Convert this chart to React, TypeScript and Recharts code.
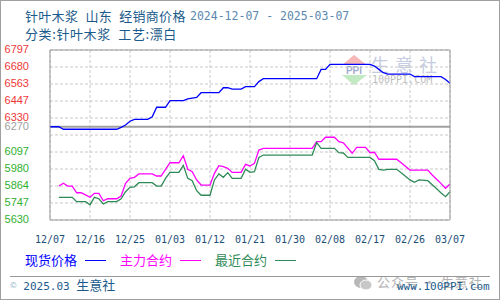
import React from "react";
import { LineChart, Line, XAxis, YAxis, CartesianGrid, ReferenceLine } from "recharts";

// days counted from 2024-12-07
const spotDay = [0, 2, 3, 15, 16, 17, 18, 19, 22, 23, 24, 26, 27, 30, 31, 33, 34, 38, 39, 40, 41, 43, 44, 46, 47, 48, 60, 61, 62, 63, 72, 73, 74, 75, 76, 81, 82, 88, 89, 90];
const spotPrice = [6270, 6270, 6253, 6253, 6266, 6282, 6308, 6321, 6321, 6339, 6404, 6404, 6449, 6449, 6461, 6472, 6504, 6504, 6538, 6538, 6529, 6529, 6545, 6545, 6580, 6600, 6600, 6664, 6664, 6699, 6699, 6687, 6664, 6641, 6632, 6632, 6614, 6614, 6595, 6568];

const mainDay = [2, 3, 4, 5, 6, 7, 8, 9, 10, 11, 12, 13, 15, 16, 17, 18, 19, 20, 23, 24, 25, 26, 27, 29, 30, 31, 32, 33, 34, 36, 37, 38, 39, 40, 41, 43, 44, 45, 46, 47, 48, 59, 60, 61, 62, 64, 65, 66, 68, 69, 71, 72, 73, 74, 78, 79, 81, 85, 86, 87, 88, 89, 90];
const mainPrice = [5863, 5882, 5863, 5863, 5817, 5817, 5802, 5786, 5813, 5813, 5762, 5776, 5776, 5795, 5882, 5916, 5923, 5946, 5946, 5932, 5932, 5978, 6023, 6023, 6071, 5978, 5962, 5905, 5870, 5870, 5950, 6003, 5996, 5985, 5957, 5957, 6012, 6001, 6019, 6110, 6122, 6122, 6168, 6168, 6198, 6198, 6168, 6160, 6088, 6129, 6129, 6092, 6095, 6047, 6047, 6023, 5973, 5973, 5939, 5910, 5880, 5848, 5877];

const nearDay = [2, 5, 6, 8, 9, 10, 11, 12, 13, 15, 16, 17, 18, 19, 20, 23, 24, 25, 26, 27, 29, 30, 31, 32, 33, 34, 36, 37, 38, 39, 40, 41, 43, 44, 45, 46, 47, 48, 59, 60, 61, 64, 65, 66, 67, 72, 73, 74, 75, 76, 78, 79, 81, 82, 83, 85, 86, 87, 88, 89, 90];
const nearPrice = [5786, 5786, 5756, 5756, 5735, 5786, 5776, 5740, 5756, 5756, 5776, 5824, 5854, 5858, 5886, 5886, 5863, 5863, 5916, 5957, 5957, 6005, 5916, 5900, 5831, 5800, 5800, 5905, 5946, 5923, 5955, 5916, 5916, 5978, 5957, 5962, 6060, 6076, 6076, 6161, 6122, 6122, 6092, 6090, 6060, 6060, 6037, 5978, 5973, 5978, 5978, 5955, 5905, 5889, 5905, 5900, 5872, 5845, 5815, 5790, 5824];

const dayTicks = [0, 9, 18, 27, 36, 45, 54, 63, 72, 81, 90];
const priceTicks = [6797, 6680, 6563, 6447, 6330, 6270, 6097, 5980, 5864, 5747, 5630];
const pctTicks = ["8.41%", "6.55%", "4.69%", "2.83%", "0.97%", "0.00%", "-2.75%", "-4.61%", "-6.47%", "-8.33%", "-10.19%"];
const BASE_PRICE = 6270;

const Y_MIN = 5630;
const Y_MAX = 6797;
// ten even grid divisions
const gridPrices = Array.from({ length: 11 }, (_, i) => Y_MIN + ((Y_MAX - Y_MIN) * i) / 10);

const toRows = (days: number[], vals: number[]) => days.map((d, i) => ({ day: d, price: vals[i] }));
const spotRows = toRows(spotDay, spotPrice);
const mainRows = toRows(mainDay, mainPrice);
const nearRows = toRows(nearDay, nearPrice);

const RED = "#f03838";
const GREEN = "#30b030";
const GREY = "#a0a0a0";
const tickColor = (v: number) => (v > BASE_PRICE ? RED : v < BASE_PRICE ? GREEN : GREY);

const MONO = "'DejaVu Sans Mono', 'Liberation Mono', monospace";
const CJK = "'Noto Sans CJK SC', 'Noto Sans', sans-serif";
const TITLE = "#1b5b8b";

function dayLabel(d: number) {
  const dt = new Date(2024, 11, 7 + d);
  const mm = String(dt.getMonth() + 1).padStart(2, "0");
  const dd = String(dt.getDate()).padStart(2, "0");
  return `${mm}/${dd}`;
}

function LeftTick(p: any) {
  const v = p.payload.value;
  return (
    <text x={p.x} y={p.y + 3} textAnchor="end" fill={tickColor(v)} fontSize={11} fontFamily="'Liberation Sans', Arial, sans-serif">
      {v}
    </text>
  );
}

function RightTick(p: any) {
  const v = p.payload.value;
  const i = priceTicks.indexOf(v);
  return (
    <text x={p.x} y={p.y + 3} textAnchor="start" fill={tickColor(v)} fontSize={10} fontFamily={MONO}>
      {pctTicks[i]}
    </text>
  );
}

function DayTick(p: any) {
  return (
    <text x={p.x} y={p.y + 21} textAnchor="middle" fill="#1d4f78" fontSize={10} fontFamily={MONO}>
      {dayLabel(p.payload.value)}
    </text>
  );
}

const abs = (left: number, top: number, extra: React.CSSProperties = {}): React.CSSProperties => ({
  position: "absolute",
  left,
  top,
  whiteSpace: "nowrap",
  ...extra,
});

function LegendItem({ left, label, color }: { left: number; label: string; color: string }) {
  return (
    <>
      <div style={abs(left, 252, { color, fontFamily: CJK, fontSize: 13, lineHeight: "16px" })}>{label}</div>
      <div style={abs(left + 60, 260, { width: 21, height: 1.3, background: color })} />
    </>
  );
}

export default function App() {
  return (
    <div style={{ position: "absolute", left: 0, top: 0, width: 500, height: 300, background: "#fff", overflow: "hidden" }}>
      {/* watermark in plot */}
      <svg style={abs(340, 53)} width={30} height={34}>
        <polygon points="14,2 2,12 27,12" fill="#f6b8b8" />
        <text x={14} y={21} textAnchor="middle" fontSize={10} fontWeight="bold" fill="#a4aed0" fontFamily="'Liberation Sans', Arial">PPI</text>
        <polygon points="2,22 27,22 14,32" fill="#c2eac2" />
      </svg>
      <div style={abs(371, 54, { fontFamily: CJK, fontSize: 18, lineHeight: "20px", color: "#c6cde2", letterSpacing: 6 })}>生意社</div>
      <div style={abs(372, 74, { fontFamily: MONO, fontSize: 10, lineHeight: "12px", color: "#bdbdbd" })}>100PPI.COM</div>

      <div style={abs(0, 0)}>
        <LineChart width={500} height={300} margin={{ top: 50, right: 0, bottom: 50, left: 0 }}>
          <CartesianGrid stroke="#c8c8c8" strokeDasharray="3 2" horizontalValues={gridPrices} verticalValues={dayTicks} />
          <XAxis
            dataKey="day"
            type="number"
            domain={[0, 90]}
            ticks={dayTicks}
            interval={0}
            height={30}
            tickSize={0}
            tickLine={false}
            axisLine={{ stroke: "#999" }}
            tick={DayTick}
          />
          <YAxis
            type="number"
            domain={[Y_MIN, Y_MAX]}
            ticks={priceTicks}
            interval={0}
            width={50}
            tickSize={0}
            tickMargin={21}
            tickLine={false}
            axisLine={{ stroke: "#999" }}
            tick={LeftTick}
          />
          <YAxis
            yAxisId="pct"
            orientation="right"
            type="number"
            domain={[Y_MIN, Y_MAX]}
            ticks={priceTicks}
            interval={0}
            width={50}
            tickSize={0}
            tickMargin={5}
            tickLine={false}
            axisLine={{ stroke: "#999" }}
            tick={RightTick}
          />
          <ReferenceLine y={Y_MAX} stroke="#999" />
          <ReferenceLine y={BASE_PRICE} stroke="#a0a0a0" strokeWidth={2} />
          <Line data={mainRows} name="主力合约" dataKey="price" type="linear" stroke="#ff00ff" strokeWidth={1.3} dot={false} isAnimationActive={false} />
          <Line data={nearRows} name="最近合约" dataKey="price" type="linear" stroke="#2e8b57" strokeWidth={1.3} dot={false} isAnimationActive={false} />
          <Line data={spotRows} name="现货价格" dataKey="price" type="linear" stroke="#0000ff" strokeWidth={1.3} dot={false} isAnimationActive={false} />
        </LineChart>
      </div>

      {/* titles */}
      <div style={abs(25, 8, { fontFamily: CJK, fontSize: 13, lineHeight: "16px", color: TITLE, wordSpacing: 4, letterSpacing: 0.3 })}>针叶木浆 山东 经销商价格</div>
      <div style={abs(190, 8, { fontFamily: MONO, fontSize: 11.5, lineHeight: "16px", color: "#5b88b0" })}>2024-12-07 - 2025-03-07</div>
      <div style={abs(25, 26, { fontFamily: CJK, fontSize: 13, lineHeight: "16px", color: TITLE, wordSpacing: 4, letterSpacing: 0.6 })}>分类:针叶木浆 工艺:漂白</div>

      {/* legend */}
      <LegendItem left={25} label="现货价格" color="#0000ff" />
      <LegendItem left={120} label="主力合约" color="#ff00ff" />
      <LegendItem left={215} label="最近合约" color="#2e8b57" />

      {/* bottom watermark */}
      <svg style={abs(353, 275)} width={20} height={16}>
        <ellipse cx={8} cy={7} rx={7} ry={6} fill="#b8b8b8" />
        <ellipse cx={13} cy={10} rx={6} ry={5} fill="#c8c8c8" stroke="#fff" strokeWidth={1} />
      </svg>
      <div style={abs(377, 274, { fontFamily: CJK, fontSize: 13, lineHeight: "16px", color: "#b4b4b4", letterSpacing: 1 })}>公众号 · 生意社</div>

      {/* footer */}
      <div style={abs(10, 276, { width: 480, height: 1, background: "#999" })} />
      <div style={abs(10, 277, { fontSize: 13, lineHeight: "16px", color: TITLE, fontFamily: CJK })}>
        <span style={{ fontSize: 8, color: "#8fb0cc", verticalAlign: "top" }}>©</span>
        <span style={{ fontFamily: MONO, fontSize: 11 }}> 2025.03 </span>
        生意社
      </div>
      <div style={abs(397, 279, { fontFamily: MONO, fontSize: 11, lineHeight: "16px", color: TITLE })}>www.100PPI.com</div>

      <div style={abs(0, 0, { width: 500, height: 300, boxSizing: "border-box", border: "1px solid #a0a0a0", pointerEvents: "none" })} />
    </div>
  );
}
